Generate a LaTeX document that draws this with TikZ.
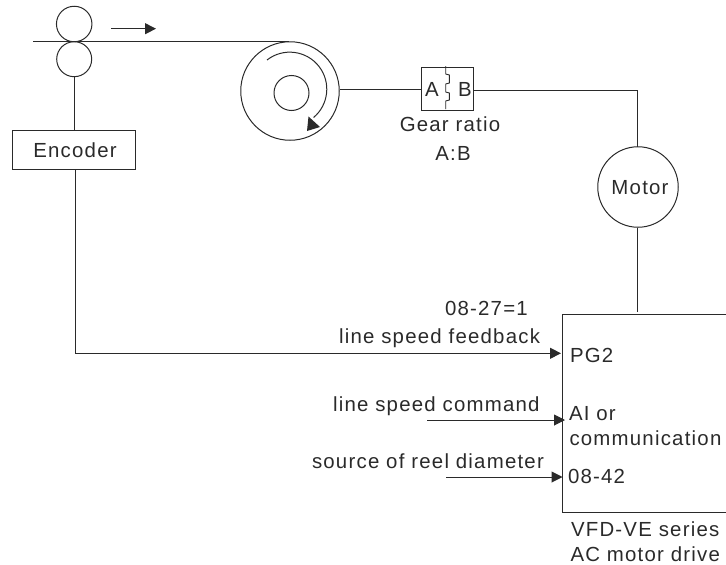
\documentclass[tikz,border=0pt]{standalone}
\usepackage{fontspec}
\setmainfont[LetterSpace=6]{Liberation Sans}
\usetikzlibrary{arrows.meta}
\definecolor{ink}{HTML}{2A2A2A}
\tikzset{
  wire/.style={draw=ink,line width=1pt},
  flow/.style={wire,-{Triangle[length=11pt,width=11pt,fill=ink]}},
  txt/.style={inner sep=0pt,outer sep=0pt,text=ink,font=\fontsize{20.4}{24}\selectfont,anchor=base},
  lft/.style={txt,anchor=base west},
}
\begin{document}
\begin{tikzpicture}[x=1pt,y=-1pt]
\useasboundingbox (0,0) rectangle (726,565);
% rollers and web
\node[circle,wire,inner sep=0pt,minimum size=35.5pt] (top) at (74.2,24) {};
\node[circle,wire,inner sep=0pt,minimum size=35pt] (bot) at (74.2,59.2) {};
\coordinate (webstart) at (33.3,41.7);
\coordinate (webend) at (289,41.7);
\draw[wire] (webstart) -- (webend);
\coordinate (dirA) at (111,28.7);
\coordinate (dirB) at (156,28.7);
\draw[flow] (dirA) -- (dirB);
% reel
\node[circle,wire,inner sep=0pt,minimum size=98.5pt] (reel) at (290,91) {};
\node[circle,wire,inner sep=0pt,minimum size=35pt] (hub) at (291.5,93) {};
\draw[wire] (267,60) arc[start angle=-128,end angle=50,radius=37];
\fill[ink] (307,131) -- (308.5,116.5) -- (320,127) -- cycle;
% encoder
\node[wire,minimum width=123pt,minimum height=39.7pt,inner sep=0pt] (enc) at (74.2,150.1) {};
\node[txt] at (75,157) {Encoder};
\draw[wire] (bot) -- (enc);
% gear
\node[wire,minimum width=52pt,minimum height=43pt,inner sep=0pt] (gear) at (447.7,88.7) {};
\draw[wire] (reel.east |- 0,89.5) -- (gear.west |- 0,89.5);
\draw[wire,line width=.9pt] (445.7,66) -- (445.7,74) -- (449.3,75) -- (449.3,83) -- (445.7,84) -- (445.7,92) -- (449.3,93) -- (449.3,100) -- (445.7,101) -- (445.7,109);
\node[txt] at (432,96.5) {A};
\node[txt] at (465,96.5) {B};
\node[txt] at (450,131.7) {Gear ratio};
\node[txt] at (453,160.5) {A:B};
% motor
\node[circle,wire,inner sep=0pt,minimum size=80.5pt] (motor) at (638,187) {};
\node[txt] at (640,194.3) {Motor};
\draw[wire] (gear.east |- 0,90) -- (637,90) -- (637,146.8);
% drive
\coordinate (dtr) at (726,314);
\coordinate (dtl) at (562.5,314);
\coordinate (dbl) at (562.5,512);
\coordinate (dbr) at (726,512);
\draw[wire] (dtr) -- (dtl) -- (dbl) -- (dbr);
\coordinate (motin) at (637,312);
\draw[wire] (motor.south -| motin) -- (motin);
% inputs
\coordinate (pg) at (561,353.3);
\draw[flow] (enc.south -| 75,0) -- (75,353.3) -- (pg);
\coordinate (c1) at (427,420);
\coordinate (c1e) at (565,420);
\draw[flow] (c1) -- (c1e);
\coordinate (c2) at (446,477);
\coordinate (c2e) at (562.5,477);
\draw[flow] (c2) -- (c2e);
% labels
\node[lft] at (445,315) {08-27=1};
\node[lft] at (339,343) {line speed feedback};
\node[lft] at (333,411) {line speed command};
\node[lft] at (312,468) {source of reel diameter};
\node[lft] at (570,362.5) {PG2};
\node[lft] at (569,420.7) {AI or};
\node[lft] at (569.5,445) {communication};
\node[lft] at (568,483.5) {08-42};
\node[lft] at (571,536.7) {VFD-VE series};
\node[lft] at (570.5,561) {AC motor drive};
\end{tikzpicture}
\end{document}
